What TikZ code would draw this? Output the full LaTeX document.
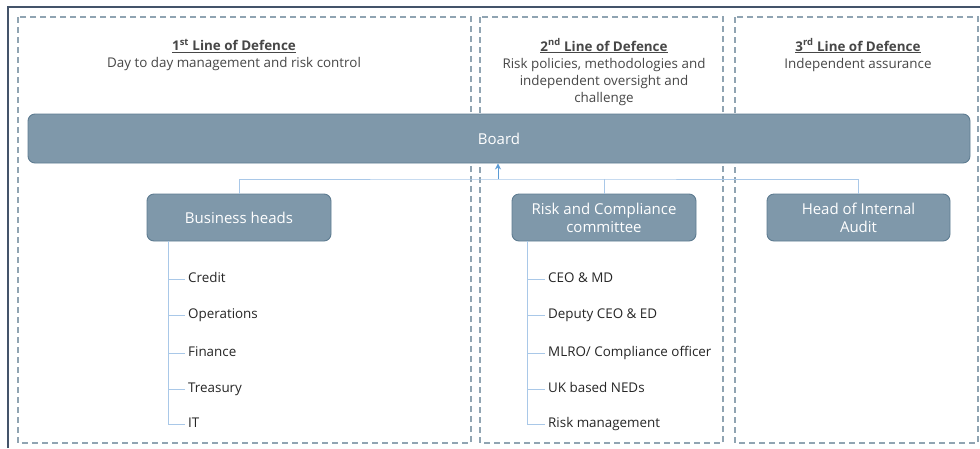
\documentclass[tikz,border=0pt]{standalone}
\usepackage{fontspec}
\setmainfont{Open Sans}
\usetikzlibrary{arrows.meta}

\definecolor{unitfill}{HTML}{7F98AA}
\definecolor{unitline}{HTML}{5E7C91}
\definecolor{laneline}{HTML}{90A4B2}
\definecolor{linkline}{HTML}{A9C8E8}
\definecolor{linktip}{HTML}{5B9BD5}
\definecolor{frameline}{HTML}{44546A}
\definecolor{inktext}{HTML}{262626}

\tikzset{
  lane/.style={draw=laneline, line width=1.1pt, dash pattern=on 6pt off 4pt},
  unit/.style={draw=unitline, fill=unitfill, rounded corners=7pt, line width=0.9pt,
    text=white, font=\fontsize{15}{18}\selectfont, align=center},
  head/.style={text=inktext!85, font=\fontsize{13.4}{17}\selectfont, align=center},
  link/.style={draw=linkline, line width=1pt},
  item/.style={anchor=west, inner sep=3pt, text height=9pt, text depth=3pt,
    text=inktext, font=\fontsize{13.4}{15}\selectfont},
}

\begin{document}
\begin{tikzpicture}[x=1pt, y=-1pt, >={Stealth[length=6pt,width=6pt]}]
\useasboundingbox (0,0) rectangle (980,448);
\fill[white] (0,0) rectangle (980,448);
\draw[frameline, line width=1.2pt] (8,448) -- (8,7) -- (980,7);

% the three lines of defence
\draw[lane] (18,17) rectangle (471,443);
\draw[lane] (480,17) rectangle (723,443);
\draw[lane] (735,17) rectangle (978,443);

\node[head] (first) at (234,55) {{\bfseries\underline{1\textsuperscript{st} Line of Defence}}\\
  Day to day management and risk control};
\node[head] (second) at (604,72) {{\bfseries\underline{2\textsuperscript{nd} Line of Defence}}\\
  Risk policies, methodologies and\\ independent oversight and\\ challenge};
\node[head] (third) at (858,55) {{\bfseries\underline{3\textsuperscript{rd} Line of Defence}}\\
  Independent assurance};

% board and reporting units
\node[unit, minimum width=942pt, minimum height=49pt] (board) at (499,138.5) {Board};
\node[unit, minimum width=184pt, minimum height=47pt] (bh) at (239,217.5) {Business heads};
\node[unit, minimum width=184pt, minimum height=47pt] (rc) at (604,217.5) {Risk and Compliance\\committee};
\node[unit, minimum width=183pt, minimum height=47pt] (ia) at (858.5,217.5) {Head of Internal\\Audit};

\coordinate (hub) at (498,179);
\draw[link] (bh.north) |- (hub) -| (ia.north);
\draw[link] (rc.north) -- (rc.north |- hub);
\draw[link, ->, linktip] (hub) -- (board.south -| hub);

% first line members
\foreach \y/\t [count=\i] in {279/Credit, 315/Operations, 353/Finance, 389/Treasury, 424/IT}
{
    \node[item] (b\i) at (185,\y) {\t};
    \draw[link] (168,\y) -- (b\i.west);
}
\draw[link] (bh.south -| 168,0) -- (168,424);

% second line members
\foreach \y/\t [count=\i] in {279/{CEO \& MD}, 315/{Deputy CEO \& ED}, 353/{MLRO/ Compliance officer}, 389/{UK based NEDs}, 424/{Risk management}}
{
    \node[item] (r\i) at (545,\y) {\t};
    \draw[link] (527,\y) -- (r\i.west);
}
\draw[link] (rc.south -| 527,0) -- (527,424);
\end{tikzpicture}
\end{document}
